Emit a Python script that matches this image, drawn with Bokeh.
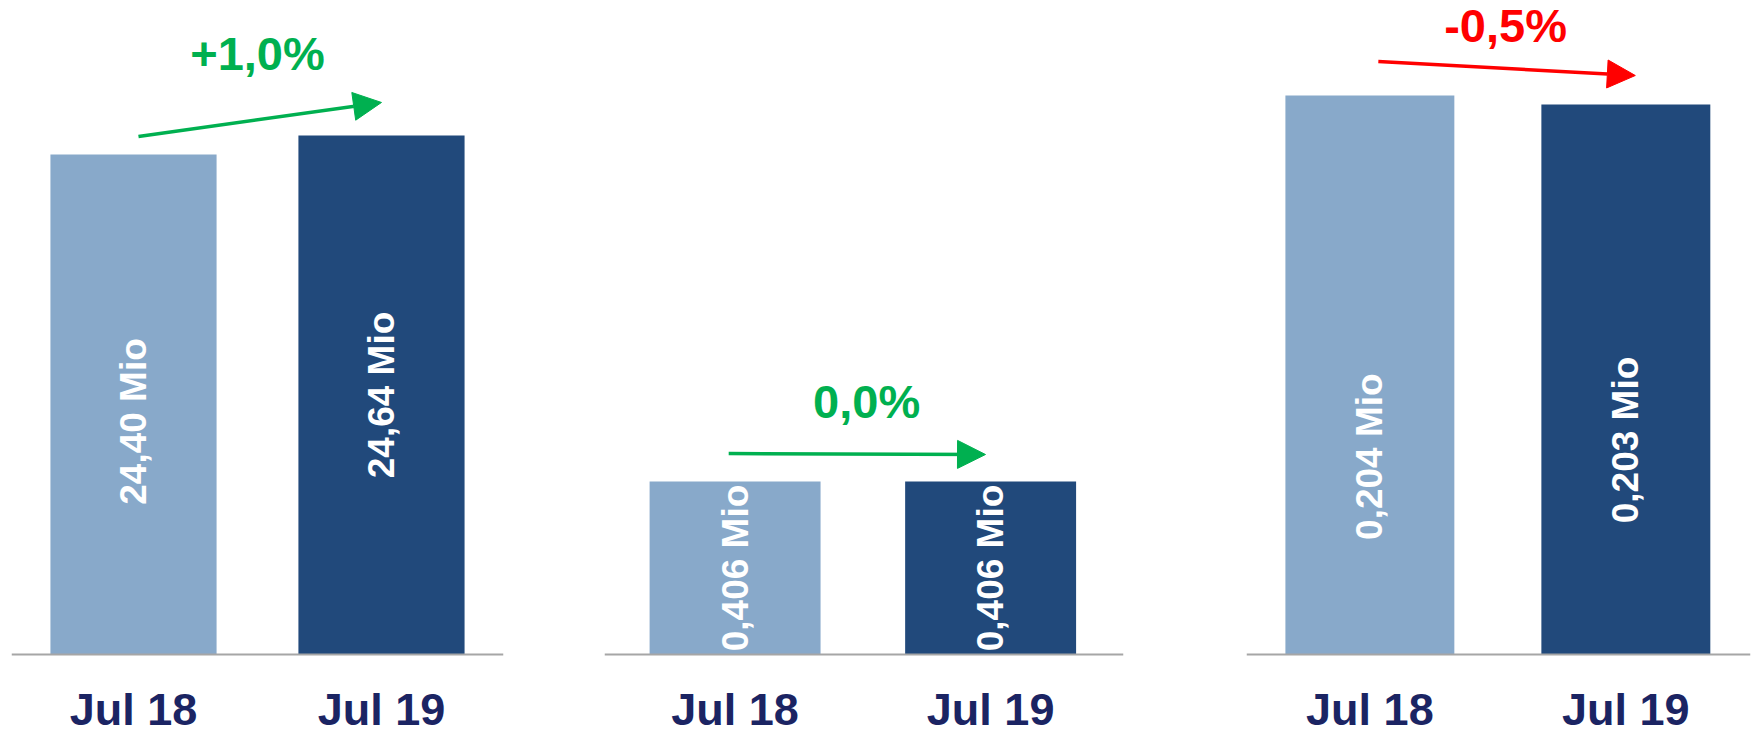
import math
from bokeh.plotting import figure
from bokeh.layouts import row
from bokeh.models import Span, Arrow, NormalHead, ColumnDataSource
from bokeh.core.properties import value
from bokeh.embed import file_html
from bokeh.resources import INLINE

# ---------------- data ----------------
categories = ["Jul 18", "Jul 19"]
panel1_values = [24.40, 24.64]
panel2_values = [0.406, 0.406]
panel3_values = [0.204, 0.203]
panel1_labels = ["24,40 Mio", "24,64 Mio"]
panel2_labels = ["0,406 Mio", "0,406 Mio"]
panel3_labels = ["0,204 Mio", "0,203 Mio"]
change_labels = ["+1,0%", "0,0%", "-0,5%"]

# ---------------- style / layout ----------------
LIGHT = "#88A9CA"
DARK = "#21497B"
NAVY = "#1B2463"
GREEN = "#00B050"
RED = "#FF0000"
AXIS_GRAY = "#A6A6A6"
FONT = "Liberation Sans"
FRAME_H = 734          # whole figure height (frame = figure)
BASE_PX = 654          # pixels from top of frame to baseline

panels = [
    dict(values=panel1_values, labels=panel1_labels, change=change_labels[0], color=GREEN,
         width=560, bl=11, br=57, xr=(-0.492, 1.492), bar_w=0.67, base=18.084, ppu=79.17,
         label_frac=[0.466, 0.5], arrow_gap=(18, 33), arrow_x=(0.02, 1.0),
         change_x=0.5, change_px=82),
    dict(values=panel2_values, labels=panel2_labels, change=change_labels[1], color=GREEN,
         width=620, bl=44, br=57, xr=(-0.511, 1.520), bar_w=0.669, base=0.0, ppu=426.1,
         label_frac=[0.5, 0.5], arrow_gap=(28, 27), arrow_x=(-0.025, 0.98),
         change_x=0.515, change_px=80),
    dict(values=panel3_values, labels=panel3_labels, change=change_labels[2], color=RED,
         width=572, bl=66, br=2, xr=(-0.482, 1.487), bar_w=0.66, base=0.14189, ppu=9000.0,
         label_frac=[0.354, 0.39], arrow_gap=(34, 29), arrow_x=(0.033, 1.037),
         change_x=0.53, change_px=70),
]

figs = []
for cfg in panels:
    base, ppu = cfg["base"], cfg["ppu"]
    y_end = base + BASE_PX / ppu
    y_start = base - (FRAME_H - BASE_PX) / ppu
    p = figure(width=cfg["width"], height=FRAME_H, output_backend="svg",
               toolbar_location=None, x_range=cfg["xr"], y_range=(y_start, y_end),
               x_axis_location=None, y_axis_location=None,
               min_border_left=cfg["bl"], min_border_right=cfg["br"],
               min_border_top=0, min_border_bottom=0)
    p.outline_line_color = None
    p.xgrid.visible = False
    p.ygrid.visible = False
    p.background_fill_color = "white"
    p.border_fill_color = "white"

    xs = list(range(len(categories)))
    vals = cfg["values"]
    src = ColumnDataSource(dict(
        x=xs, top=vals, color=[LIGHT, DARK],
        label=cfg["labels"],
        ly=[base + (v - base) * f for v, f in zip(vals, cfg["label_frac"])],
        cat=categories,
        cy=[base - 55 / ppu] * len(xs),
    ))
    p.vbar(x="x", top="top", bottom=base, width=cfg["bar_w"], fill_color="color",
           line_color=None, source=src)
    p.add_layout(Span(location=base, dimension="width", line_color=AXIS_GRAY, line_width=2))

    # value labels inside bars
    p.text(x="x", y="ly", text="label", source=src, angle=math.pi / 2,
           text_align="center", text_baseline="middle", text_color="white",
           text_font=value(FONT), text_font_style="bold",
           text_font_size="37px")
    # category labels
    p.text(x="x", y="cy", text="cat", source=src, text_align="center",
           text_baseline="middle", text_color=NAVY, text_font=value(FONT),
           text_font_style="bold", text_font_size="45px")

    # change arrow
    g0, g1 = cfg["arrow_gap"]
    ax0, ax1 = cfg["arrow_x"]
    p.add_layout(Arrow(x_start=ax0, y_start=vals[0] + g0 / ppu,
                       x_end=ax1, y_end=vals[1] + g1 / ppu,
                       line_color=cfg["color"], line_width=3.5,
                       end=NormalHead(size=28, fill_color=cfg["color"],
                                      line_color=cfg["color"], line_width=1)))
    # change label
    csrc = ColumnDataSource(dict(x=[cfg["change_x"]],
                                 y=[max(vals) + cfg["change_px"] / ppu],
                                 t=[cfg["change"]]))
    p.text(x="x", y="y", text="t", source=csrc, text_align="center",
           text_baseline="middle", text_color=cfg["color"], text_font=value(FONT),
           text_font_style="bold", text_font_size="47px")
    figs.append(p)

layout = row(*figs)
open("out.html", "w").write(file_html(layout, INLINE))
